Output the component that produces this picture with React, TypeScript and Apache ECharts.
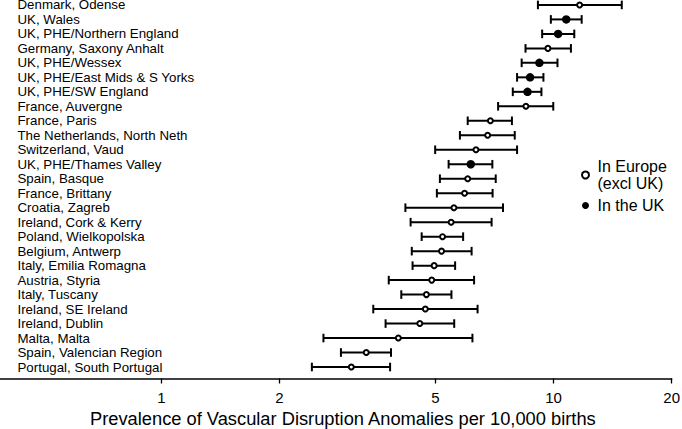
import React, { useEffect, useRef } from "react";
import * as echarts from "echarts";

const categories = [
  "Denmark, Odense",
  "UK, Wales",
  "UK, PHE/Northern England",
  "Germany, Saxony Anhalt",
  "UK, PHE/Wessex",
  "UK, PHE/East Mids & S Yorks",
  "UK, PHE/SW England",
  "France, Auvergne",
  "France, Paris",
  "The Netherlands, North Neth",
  "Switzerland, Vaud",
  "UK, PHE/Thames Valley",
  "Spain, Basque",
  "France, Brittany",
  "Croatia, Zagreb",
  "Ireland, Cork & Kerry",
  "Poland, Wielkopolska",
  "Belgium, Antwerp",
  "Italy, Emilia Romagna",
  "Austria, Styria",
  "Italy, Tuscany",
  "Ireland, SE Ireland",
  "Ireland, Dublin",
  "Malta, Malta",
  "Spain, Valencian Region",
  "Portugal, South Portugal",
];

const estimate = [11.65, 10.77, 10.27, 9.67, 9.2, 8.71, 8.58, 8.5, 6.9, 6.79, 6.34, 6.15, 6.04, 5.93, 5.57, 5.48, 5.21, 5.18, 4.96, 4.89, 4.74, 4.71, 4.56, 4.02, 3.33, 3.05];
const lower = [9.12, 9.84, 9.35, 8.48, 8.29, 8.07, 7.87, 7.22, 6.04, 5.77, 4.99, 5.4, 5.13, 5.04, 4.19, 4.32, 4.61, 4.35, 4.37, 3.8, 4.09, 3.47, 3.73, 2.59, 2.87, 2.42];
const upper = [14.92, 11.79, 11.29, 11.07, 10.23, 9.42, 9.31, 9.98, 7.83, 7.96, 8.07, 6.98, 7.12, 6.99, 7.43, 6.95, 5.88, 6.18, 5.61, 6.27, 5.49, 6.4, 5.58, 6.21, 3.85, 3.83];
const inUK = [false, true, true, false, true, true, true, false, false, false, false, true, false, false, false, false, false, false, false, false, false, false, false, false, false, false];

const xTicks = [1, 2, 5, 10, 20];
const seriesNames = ["In Europe\n(excl UK)", "In the UK"];

const FONT = "Liberation Sans, Arial, Helvetica, sans-serif";

export default function App() {
  const ref = useRef<HTMLDivElement>(null);

  useEffect(() => {
    if (!ref.current) return;
    const chart = echarts.init(ref.current, undefined, { renderer: "svg" });
    const n = categories.length;
    const rowY = (i: number) => n - i;

    const errData = categories.map((_, i) => [lower[i], upper[i], rowY(i)]);
    const euData: number[][] = [];
    const ukData: number[][] = [];
    categories.forEach((_, i) => {
      (inUK[i] ? ukData : euData).push([estimate[i], rowY(i)]);
    });
    const yLabelValues = categories.map((_, i) => rowY(i));

    chart.setOption({
      animation: false,
      backgroundColor: "#fff",
      textStyle: { fontFamily: FONT },
      grid: { left: 0, right: 10.3, top: 0, bottom: 50.5, outerBoundsMode: "none", containLabel: false },
      legend: {
        data: seriesNames,
        orient: "vertical",
        left: 576,
        top: 153,
        itemWidth: 14,
        itemHeight: 7,
        itemGap: 5,
        selectedMode: false,
        textStyle: { fontSize: 16, lineHeight: 17, color: "#000", fontFamily: FONT },
      },
      xAxis: {
        type: "log",
        logBase: 10,
        min: 0.388,
        max: 20,
        splitLine: { show: false },
        axisLine: { show: true, onZero: false, lineStyle: { color: "#000", width: 1.5 } },
        axisTick: { show: true, length: 5, lineStyle: { color: "#000", width: 1.3 }, customValues: xTicks },
        axisLabel: {
          customValues: xTicks,
          fontSize: 15,
          color: "#000",
          margin: 11,
          fontFamily: FONT,
          formatter: (v: number) => String(v),
        },
        name: "Prevalence of Vascular Disruption Anomalies per 10,000 births",
        nameLocation: "middle",
        nameGap: 30,
        nameTextStyle: { fontSize: 18.3, color: "#000", fontFamily: FONT, padding: [0, 0, 0, 14] },
      },
      yAxis: {
        type: "value",
        min: 0.207,
        max: 26.34,
        splitLine: { show: false },
        axisLine: { show: false },
        axisTick: { show: false },
        axisLabel: {
          inside: true,
          margin: 17.5,
          align: "left",
          customValues: yLabelValues,
          fontSize: 13.3,
          lineHeight: 10,
          color: "#000",
          fontFamily: FONT,
          formatter: (v: number) => categories[n - Math.round(v)] ?? "",
        },
      },
      series: [
        {
          type: "custom",
          name: "ci",
          data: errData,
          encode: { x: [0, 1], y: 2 },
          renderItem: (params: any, api: any) => {
            const y = api.value(2);
            const p1 = api.coord([api.value(0), y]);
            const p2 = api.coord([api.value(1), y]);
            const h = 4.3;
            const style = { stroke: "#000", lineWidth: 2 };
            return {
              type: "group",
              children: [
                { type: "line", shape: { x1: p1[0], y1: p1[1], x2: p2[0], y2: p2[1] }, style },
                { type: "line", shape: { x1: p1[0], y1: p1[1] - h, x2: p1[0], y2: p1[1] + h }, style },
                { type: "line", shape: { x1: p2[0], y1: p2[1] - h, x2: p2[0], y2: p2[1] + h }, style },
              ],
            };
          },
          z: 1,
        },
        {
          type: "scatter",
          name: seriesNames[0],
          data: euData,
          symbol: "circle",
          symbolSize: 5,
          itemStyle: { color: "#fff", borderColor: "#000", borderWidth: 2, opacity: 1 },
          z: 3,
        },
        {
          type: "scatter",
          name: seriesNames[1],
          data: ukData,
          symbol: "circle",
          symbolSize: 8.5,
          itemStyle: { color: "#000", borderColor: "#000", borderWidth: 0, opacity: 1 },
          z: 3,
        },
      ],
    });
    return () => chart.dispose();
  }, []);

  return (
    <div
      ref={ref}
      style={{ position: "fixed", left: 0, top: 0, width: 682, height: 429, background: "#fff" }}
    />
  );
}
